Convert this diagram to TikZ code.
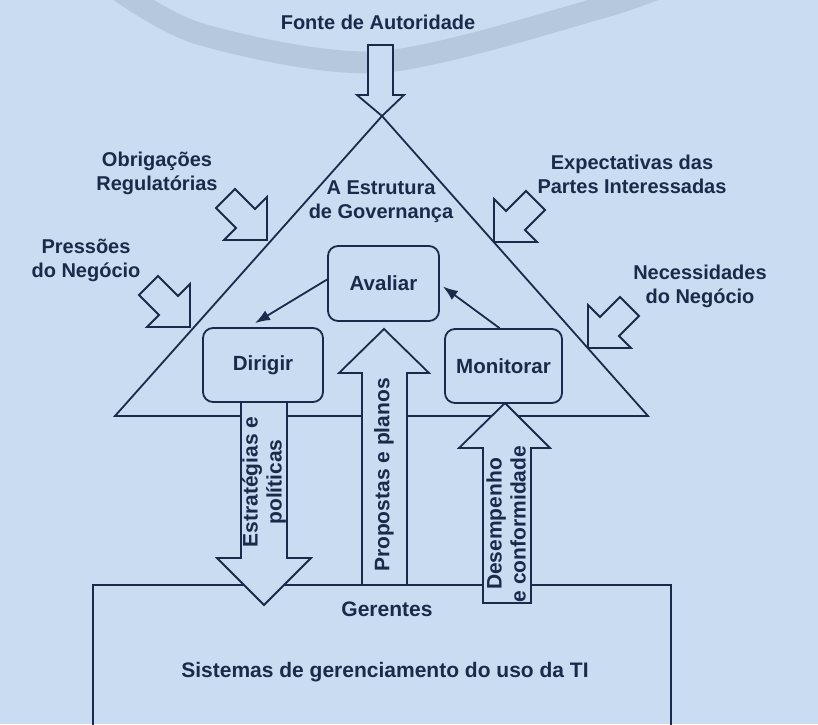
\documentclass[tikz,border=0pt]{standalone}
\usepackage{fontspec}
\setmainfont{Liberation Sans}
\usetikzlibrary{arrows.meta}
\definecolor{bg}{HTML}{C9DCF1}
\definecolor{ink}{HTML}{1B2A4A}
\definecolor{swoosh}{HTML}{A3B5CC}
\tikzset{
  lbl/.style={font=\fontsize{20}{24}\selectfont\bfseries, text=ink, align=center, inner sep=0pt},
  lblbig/.style={lbl, font=\fontsize{21}{24}\selectfont\bfseries},
  blk/.style={draw=ink, line width=1.8pt, fill=bg, line join=miter},
  outline/.style={draw=ink, line width=1.8pt},
  gbox/.style={blk, rounded corners=10pt, font=\fontsize{20.5}{24}\selectfont\bfseries, text=ink, align=center},
  conn/.style={draw=ink, line width=1.8pt, -{Latex[length=15pt,width=11pt]}},
}
\begin{document}
\begin{tikzpicture}[x=1pt,y=1pt]
\useasboundingbox (0,0) rectangle (818,724);
\clip (0,0) rectangle (818,724);
\fill[bg] (0,0) rectangle (818,724);
% decorative swoosh of the slide background
\draw[swoosh, line width=22pt, opacity=0.5, line cap=round] plot[smooth] coordinates {(110,740) (200,690) (380,662) (600,716) (680,745)};

% governance triangle and manager box
\draw[outline] (382,608) -- (115,308) -- (648,308) -- cycle;
\draw[outline] (93,-10) -- (93,139) -- (671,139) -- (671,-10);

% top block arrow
\draw[blk] (368,679) -- (393,679) -- (393,629) -- (404,629) -- (382,608) -- (357,629) -- (368,629) -- cycle;

% side block arrows (left: pointing down-right)
\draw[blk, shift={(267,484)}] (0,0) -- (-43,0) -- (-31,12) -- (-51,32) -- (-32,51) -- (-12,31) -- (0,43) -- cycle;
\draw[blk, shift={(190,397)}] (0,0) -- (-43,0) -- (-31,12) -- (-51,32) -- (-32,51) -- (-12,31) -- (0,43) -- cycle;
% right: pointing down-left
\draw[blk, shift={(494,482)}] (0,0) -- (43,0) -- (31,12) -- (51,32) -- (32,51) -- (12,31) -- (0,43) -- cycle;
\draw[blk, shift={(588,376)}] (0,0) -- (43,0) -- (31,12) -- (51,32) -- (32,51) -- (12,31) -- (0,43) -- cycle;

% vertical block arrows
\draw[blk] (241,322) -- (241,166) -- (217,166) -- (264,119) -- (311,166) -- (287,166) -- (287,322) -- cycle;
\draw[blk] (362,139) -- (362,351) -- (339,351) -- (384,395) -- (429,351) -- (407,351) -- (407,139) -- cycle;
\draw[blk] (483,121) -- (483,276) -- (459,276) -- (505,321) -- (550,276) -- (531,276) -- (531,121) -- cycle;

% process boxes
\node[gbox, minimum width=111pt, minimum height=75pt] (aval) at (383.5,440.5) {Avaliar};
\node[gbox, minimum width=120pt, minimum height=74pt] (dir) at (263,359) {Dirigir};
\node[gbox, minimum width=117pt, minimum height=74pt] (mon) at (503.5,358) {Monitorar};

\draw[conn] ([yshift=4pt]aval.west) -- ([xshift=-8pt,yshift=4pt]dir.north);
\draw[conn] ([xshift=-4pt]mon.north) -- ([xshift=3pt,yshift=-3pt]aval.east);

% labels
\node[lbl] (fonte) at (378,702) {Fonte de Autoridade};
\node[lbl] (obrig) at (157,551) {Obrigações\\Regulatórias};
\node[lbl] (press) at (86,464) {Pressões\\do Negócio};
\node[lbl] (expec) at (632,550) {Expectativas das\\Partes Interessadas};
\node[lbl] (neces) at (700,438) {Necessidades\\do Negócio};
\node[lbl] (estru) at (381,522) {A Estrutura\\de Governança};
\node[lblbig] (ger) at (387,115) {Gerentes};
\node[lblbig] (sis) at (385,52) {Sistemas de gerenciamento do uso da TI};
\node[lblbig, rotate=90] (estpol) at (264,242) {Estratégias e\\políticas};
\node[lblbig, rotate=90] (prop) at (384,249) {Propostas e planos};
\node[lblbig, rotate=90] (desemp) at (506,200) {Desempenho\\e conformidade};
\end{tikzpicture}
\end{document}
